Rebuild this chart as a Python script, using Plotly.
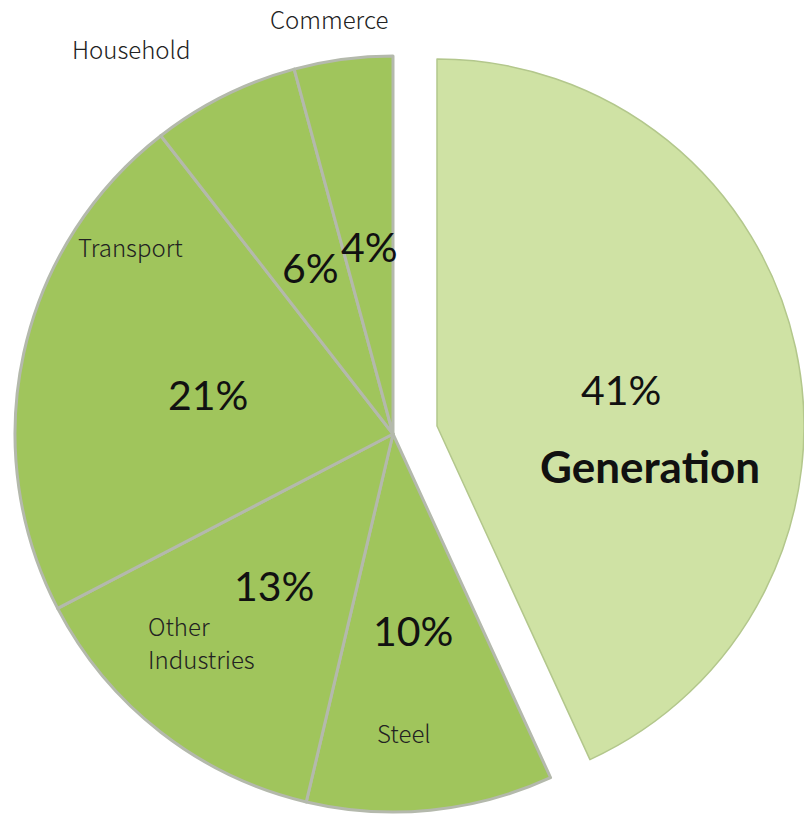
import plotly.graph_objects as go

# Share of emissions by sector (%), clockwise from 12 o'clock
sectors = ["Generation", "Steel", "Other Industries", "Transport", "Household", "Commerce"]
shares = [41, 10, 13, 21, 6, 4]

W, H = 804, 814
GREEN = "#a0c55c"
LIGHT = "#cfe2a4"
CLEAR = "rgba(0,0,0,0)"


def px_domain(cx, cy, r):
    """Pie domain (paper units) for a circle centred at pixel (cx, cy) with radius r."""
    return dict(
        x=[max(0.0, (cx - r) / W), min(1.0, (cx + r) / W)],
        y=[max(0.0, 1 - (cy + r) / H), min(1.0, 1 - (cy - r) / H)],
    )


is_gen = [s == "Generation" for s in sectors]

# main pie: every sector except Generation
main = go.Pie(
    labels=sectors,
    values=shares,
    sort=False,
    direction="clockwise",
    rotation=0,
    textinfo="none",
    hoverinfo="label+value",
    showlegend=False,
    domain=px_domain(393, 434, 378),
    marker=dict(
        colors=[CLEAR if g else GREEN for g in is_gen],
        line=dict(color=[CLEAR if g else "#b4b9ac" for g in is_gen],
                  width=[0 if g else 3 for g in is_gen]),
    ),
)

# exploded Generation wedge, drawn as its own pie shifted to the right
exploded = go.Pie(
    labels=sectors,
    values=shares,
    sort=False,
    direction="clockwise",
    rotation=0,
    textinfo="none",
    hoverinfo="label+value",
    showlegend=False,
    domain=px_domain(437, 426, 367),
    marker=dict(
        colors=[LIGHT if g else CLEAR for g in is_gen],
        line=dict(color=["#b3c78c" if g else CLEAR for g in is_gen],
                  width=[1.5 if g else 0 for g in is_gen]),
    ),
)

fig = go.Figure([main, exploded])

# sector name labels: one entry per text line (pixel anchor, horizontal anchor)
name_lines = {
    "Commerce": [("Commerce", 329, 18, "center")],
    "Household": [("Household", 131, 48, "center")],
    "Transport": [("Transport", 130, 246, "center")],
    "Other Industries": [("Other", 147, 625, "left"),
                         ("Industries", 147, 658, "left")],
    "Steel": [("Steel", 404, 732, "center")],
}
# percentage labels (pixel centre)
pct_pos = {
    "Generation": (621, 389),
    "Steel": (413, 630),
    "Other Industries": (274, 585),
    "Transport": (208, 394),
    "Household": (310, 268),
    "Commerce": (369, 246),
}

ann = []
for s, v in zip(sectors, shares):
    px, py = pct_pos[s]
    ann.append(dict(x=px / W, y=1 - py / H, xref="paper", yref="paper",
                    xanchor="center", yanchor="middle", borderpad=0,
                    text=f"{v}%", showarrow=False,
                    font=dict(family="Lato", size=41, color="#111111")))
    for txt, nx, ny, xa in name_lines.get(s, []):
        ann.append(dict(x=nx / W, y=1 - ny / H, xref="paper", yref="paper",
                        text=txt, showarrow=False, borderpad=0,
                        xanchor=xa, yanchor="middle",
                        font=dict(family="Noto Sans CJK JP", size=24,
                                  color="#222222", weight=300)))

ann.append(dict(x=650 / W, y=1 - 466 / H, xref="paper", yref="paper",
                xanchor="center", yanchor="middle",
                text="<b>Generation</b>", showarrow=False,
                font=dict(family="Lato", size=44, color="#111111")))

fig.update_layout(
    width=W, height=H,
    margin=dict(l=0, r=0, t=0, b=0),
    paper_bgcolor="white",
    plot_bgcolor="white",
    annotations=ann,
)

fig.write_html("out.html")
